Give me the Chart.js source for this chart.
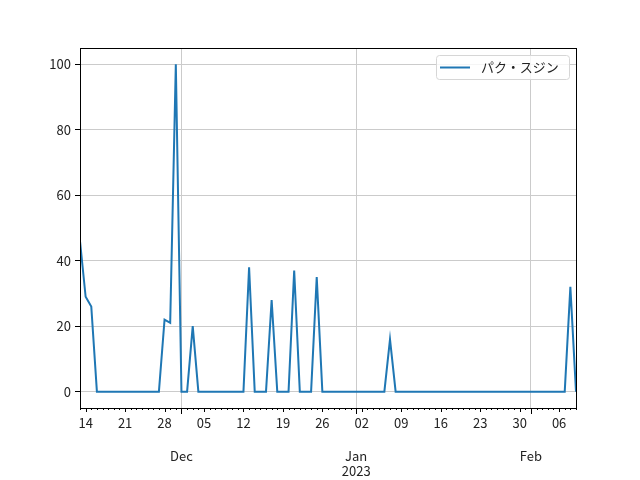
<!DOCTYPE html>
<html>
<head>
<meta charset="utf-8">
<script src="https://cdn.jsdelivr.net/npm/chart.js@4/dist/chart.umd.min.js"></script>
<style>
  html, body { margin: 0; padding: 0; background: #fff; }
  #wrap { width: 640px; height: 480px; }
</style>
</head>
<body>
<div id="wrap"><canvas id="chart" width="640" height="480"></canvas></div>
<script>
const FONT = '"Noto Sans CJK JP", "Noto Sans", sans-serif';
Chart.defaults.font.family = FONT;
Chart.defaults.font.size = 13;
Chart.defaults.color = '#222';

// daily series, first day 2022-11-13
const startDate = [2022, 10, 13];
const seriesName = 'パク・スジン';
const values = [
    46, 29, 26, 0, 0, 0, 0, 0, 0, 0, 0, 0, 0, 0, 0, 22, 21, 100,
    0, 0, 20, 0, 0, 0, 0, 0, 0, 0, 0, 0, 38, 0, 0, 0, 28, 0, 0, 0,
    37, 0, 0, 0, 35, 0, 0, 0, 0, 0, 0, 0, 0, 0, 0, 0, 0, 16, 0, 0,
    0, 0, 0, 0, 0, 0, 0, 0, 0, 0, 0, 0, 0, 0, 0, 0, 0, 0, 0, 0,
    0, 0, 0, 0, 0, 0, 0, 0, 0, 32, 0
];
const weekLabels = ['14', '21', '28', '05', '12', '19', '26', '02', '09', '16', '23', '30', '06'];
const monthLabels = [['Dec'], ['Jan', '2023'], ['Feb']];
const yTicks = [0, 20, 40, 60, 80, 100];

const dates = values.map((v, i) => new Date(startDate[0], startDate[1], startDate[2] + i));
const mondays = [];
const monthStarts = [];
dates.forEach((d, i) => {
    if (d.getDay() === 1) mondays.push(i);
    if (d.getDate() === 1) monthStarts.push(i);
});
const weekLabelAt = {};
mondays.forEach((idx, k) => { weekLabelAt[idx] = weekLabels[k]; });

const points = values.map((v, i) => ({ x: i, y: v }));

const axisPlugin = {
    id: 'mplAxes',
    afterDraw(chart) {
        const ctx = chart.ctx;
        const area = chart.chartArea;
        const xs = chart.scales.x;
        ctx.save();
        // tick marks along bottom
        ctx.strokeStyle = '#000';
        ctx.lineWidth = 1;
        dates.forEach((d, i) => {
            let len = 2;
            if (d.getDay() === 1) len = 4;
            if (d.getDate() === 1) len = 6;
            const px = Math.round(xs.getPixelForValue(i)) + 0.5;
            ctx.beginPath();
            ctx.moveTo(px, area.bottom);
            ctx.lineTo(px, area.bottom + len);
            ctx.stroke();
        });
        // month labels (second row)
        ctx.fillStyle = '#222';
        ctx.font = '13px ' + FONT;
        ctx.textAlign = 'center';
        ctx.textBaseline = 'middle';
        monthStarts.forEach((idx, k) => {
            const px = xs.getPixelForValue(idx);
            (monthLabels[k] || []).forEach((t, j) => {
                ctx.fillText(t, px, 456 + j * 15);
            });
        });
        // axes frame
        ctx.strokeStyle = '#000';
        ctx.lineWidth = 1;
        ctx.strokeRect(Math.round(area.left) + 0.5, Math.round(area.top) + 0.5,
            Math.round(area.right - area.left), Math.round(area.bottom - area.top));
        // legend box
        const bx = 436.5, by = 55.5, bw = 133, bh = 24;
        ctx.fillStyle = 'rgba(255,255,255,0.8)';
        ctx.strokeStyle = '#d6d6d6';
        ctx.beginPath();
        ctx.roundRect(bx, by, bw, bh, 3);
        ctx.fill();
        ctx.stroke();
        ctx.strokeStyle = '#1f77b4';
        ctx.lineWidth = 2;
        ctx.beginPath();
        ctx.moveTo(440, 67.5);
        ctx.lineTo(470, 67.5);
        ctx.stroke();
        ctx.fillStyle = '#222';
        ctx.textAlign = 'left';
        ctx.fillText(seriesName, 481, 67);
        ctx.restore();
    }
};

new Chart(document.getElementById('chart'), {
    type: 'line',
    data: {
        datasets: [{
            label: seriesName,
            data: points,
            borderColor: '#1f77b4',
            backgroundColor: '#1f77b4',
            borderWidth: 2,
            pointRadius: 0,
            tension: 0,
            fill: false
        }]
    },
    options: {
        responsive: false,
        animation: false,
        layout: {
            padding: { left: 0, top: 48, right: 64, bottom: 0 }
        },
        plugins: {
            legend: { display: false },
            tooltip: { enabled: false }
        },
        scales: {
            x: {
                type: 'linear',
                min: 0,
                max: values.length - 1,
                afterBuildTicks: (scale) => {
                    scale.ticks = dates.map((d, i) => ({ value: i }));
                },
                afterFit: (scale) => { scale.height = 72; },
                border: { display: false },
                grid: {
                    drawTicks: false,
                    color: (c) => (c.tick && monthStarts.includes(c.tick.value)) ? '#cbcbcb' : 'rgba(0,0,0,0)',
                    lineWidth: 1
                },
                ticks: {
                    autoSkip: false,
                    maxRotation: 0,
                    padding: 7,
                    color: '#222',
                    callback: (v) => weekLabelAt[v] || ''
                }
            },
            y: {
                min: -5,
                max: 105,
                afterBuildTicks: (scale) => {
                    scale.ticks = yTicks.map(v => ({ value: v }));
                },
                afterFit: (scale) => { scale.width = 80; },
                border: { display: false },
                grid: {
                    color: '#cbcbcb',
                    tickColor: '#000',
                    tickLength: 5,
                    lineWidth: 1
                },
                ticks: {
                    padding: 4,
                    color: '#222'
                }
            }
        }
    },
    plugins: [axisPlugin]
});
</script>
</body>
</html>
